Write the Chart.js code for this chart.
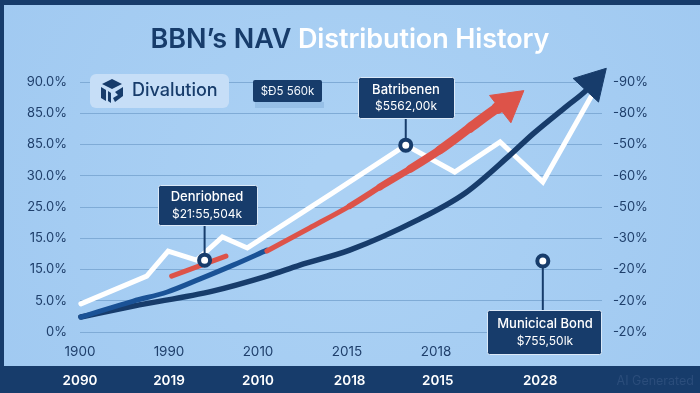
<!DOCTYPE html>
<html>
<head>
<meta charset="utf-8">
<style>
html,body{margin:0;padding:0;width:700px;height:393px;overflow:hidden;background:#a4ccf2}
#wrap{position:relative;width:700px;height:393px}
#title{position:absolute;left:0;top:20px;width:700px;text-align:center;font:600 27px Inter,sans-serif;line-height:38px;color:#fff;letter-spacing:-.1px;white-space:nowrap}
#title span{color:#173c6b}
</style>
<script src="https://cdn.jsdelivr.net/npm/chart.js@4"></script>
</head>
<body>
<div id="wrap">
<canvas id="c" width="700" height="393" style="position:absolute;left:0;top:0;width:700px;height:393px"></canvas>
<div id="title"><span>BBN’s NAV</span> Distribution History</div>
</div>
<script>
const leftLabels = ['0%','5.0%','15.0%','15.0%','25.0%','30.0%','85.0%','85.0%','90.0%'];
const rightLabels = ['-20%','-20%','-20%','-30%','-50%','-60%','-50%','-80%','-90%'];
const axisYears = ['1900','1990','2010','2015','2018'];
const axisPositions = [0,1,2,3,4];
const bandYears = ['2090','2019','2010','2018','2015','2028'];
const bandPositions = [0,1,2,3.03,4.02,5.17];

const whiteX = [0.01,0.75,0.99,1.31,1.60,1.88,2.84,3.66,4.21,4.72,5.20,5.74];
const whiteY = [0.90,1.79,2.59,2.30,3.04,2.69,4.45,5.98,5.12,6.08,4.80,7.52];
const navyX = [0.01,0.60,1.49,2.10,2.47,3.03,3.79,4.33,4.83,5.09,5.47,5.69,5.76];
const navyY = [0.48,0.83,1.31,1.79,2.14,2.62,3.58,4.45,5.66,6.34,7.23,7.74,7.97];
const blueX = [0.01,0.60,0.98,1.35,1.72,2.10];
const blueY = [0.48,0.99,1.28,1.70,2.14,2.62];
const redX = [1.03,1.64,1.80,2.10,2.58,3.03,3.37,3.71,4.04,4.38,4.69,4.81];
const redY = [1.79,2.43,null,2.59,3.33,4.03,4.64,5.22,5.82,6.53,7.17,7.33];
const markerX = [1.40,3.66,5.20];
const markerY = [2.30,5.98,2.27];
const calloutTitles = ['Denriobned','Batribenen','Municical Bond'];
const calloutValues = ['$21:55,504k','$5562,00k','$755,50lk'];
const badgeLabel = '$Ð5 560k';
const brandLabel = 'Divalution';
const watermark = 'AI Generated';

const NAVY='#173c6b', BLUE='#1a5296', RED='#dd5349', GRID='#7fabd6', INK='#1f3f6b';
const redWidths=[5,5,5,5,5,6,7,8,9,10,12,13];
const boxes=[
 {x:158,y:185,w:100,h:41,fs:13,ty:197,vy:214,cx:207},
 {x:358,y:77,w:97,h:42,fs:13,ty:90,vy:106,cx:406},
 {x:487,y:310,w:115,h:45,fs:13,ty:324,vy:341,cx:545}
];
const pts=(xs,ys)=>xs.map((x,i)=>({x,y:ys[i]}));
function rr(ctx,x,y,w,h,r){ctx.beginPath();ctx.roundRect(x,y,w,h,r);}

const decor={
 id:'decor',
 beforeDraw(chart){
  const c=chart.ctx;
  const g=c.createRadialGradient(350,190,40,350,190,420);
  g.addColorStop(0,'#abd1f4');g.addColorStop(1,'#a0c9f1');
  c.save();
  c.fillStyle=g;c.fillRect(0,0,700,393);
  c.fillStyle=NAVY;
  c.fillRect(0,0,700,5);
  c.fillRect(0,0,4,393);
  c.fillRect(0,366,700,27);
  c.restore();
 },
 beforeDatasetDraw(chart,args){
  if(args.index!==0)return;
  const c=chart.ctx,sx=chart.scales.x,sy=chart.scales.y;
  c.save();c.strokeStyle=NAVY;c.lineWidth=2;
  markerX.forEach((mx,i)=>{
   const b=boxes[i],px=sx.getPixelForValue(mx),py=sy.getPixelForValue(markerY[i]);
   const edge=b.y>py?b.y:b.y+b.h;
   c.beginPath();c.moveTo(px,py);c.lineTo(px,edge);c.stroke();
  });
  c.restore();
 },
 afterDraw(chart){
  const c=chart.ctx;
  c.save();
  c.fillStyle='#c6def7';rr(c,90,74,139,34,6);c.fill();
  c.fillStyle=NAVY;
  c.beginPath();c.moveTo(112,79);c.lineTo(122,84);c.lineTo(112,89);c.lineTo(102,84);c.closePath();c.fill();
  c.beginPath();c.moveTo(101,87);c.lineTo(106,90);c.lineTo(106,101);c.lineTo(101,98);c.closePath();c.fill();
  c.beginPath();c.moveTo(108,91);c.lineTo(111,93);c.lineTo(111,103);c.lineTo(108,101);c.closePath();c.fill();
  c.beginPath();c.moveTo(115,92);c.lineTo(123,87);c.lineTo(123,96);c.lineTo(115,102);c.lineTo(113,98);c.lineTo(118,95);c.closePath();c.fill();
  c.textBaseline='middle';c.textAlign='left';
  c.font='500 18px Inter, sans-serif';
  c.fillText(brandLabel,132,91);
  c.fillStyle='rgba(127,171,214,.45)';c.fillRect(255,102,69,6);
  c.fillStyle=NAVY;rr(c,253,80,69,22,2);c.fill();
  c.fillStyle='#f2f7fd';c.textAlign='center';c.font='11.5px Inter, sans-serif';
  c.fillText(badgeLabel,287.5,92);
  boxes.forEach((b,i)=>{
   c.fillStyle=NAVY;c.strokeStyle='#dbe9f8';c.lineWidth=1;
   rr(c,b.x+.5,b.y+.5,b.w-1,b.h-1,2);c.fill();c.stroke();
   c.fillStyle='#fff';c.textAlign='center';
   c.font='500 '+b.fs+'px Inter, sans-serif';
   c.fillText(calloutTitles[i],b.cx,b.ty);
   c.font='12px Inter, sans-serif';
   c.fillText(calloutValues[i],b.cx,b.vy);
  });
  c.fillStyle='#2b4d7b';c.textAlign='right';c.font='12.5px Inter, sans-serif';
  c.fillText(watermark,694,381);
  c.restore();
 }
};

const lineBase={xAxisID:'x',yAxisID:'y',fill:false,tension:0,borderCapStyle:'round',borderJoinStyle:'miter',pointRadius:0,pointHoverRadius:0,clip:false};
const arrow=(len,rot,color)=>({
 pointStyle:'triangle',
 pointRadius:ctx=>ctx.dataIndex===len-1?20:0,
 pointRotation:rot,
 pointBackgroundColor:color,pointBorderColor:color,pointBorderWidth:1
});

new Chart(document.getElementById('c'),{
 type:'scatter',
 data:{datasets:[
  {label:'Markers',data:pts(markerX,markerY),xAxisID:'x',yAxisID:'y',showLine:false,clip:false,pointStyle:'circle',pointRadius:5.5,pointBorderWidth:4,pointBorderColor:NAVY,pointBackgroundColor:'#fff'},
  {...lineBase,label:'Red',showLine:true,data:pts(redX,redY),borderColor:RED,borderWidth:5,spanGaps:false,tension:0.3,
   segment:{borderWidth:ctx=>redWidths[ctx.p0DataIndex]},...arrow(redX.length,52,RED)},
  {...lineBase,label:'Blue',showLine:true,data:pts(blueX,blueY),borderColor:BLUE,borderWidth:5,cubicInterpolationMode:'monotone'},
  {...lineBase,label:'Navy',showLine:true,data:pts(navyX,navyY),borderColor:NAVY,borderWidth:5.5,cubicInterpolationMode:'monotone',...arrow(navyX.length,43,NAVY)},
  {...lineBase,label:'White',showLine:true,data:pts(whiteX,whiteY),borderColor:'#fff',borderWidth:5}
 ]},
 options:{
  responsive:false,animation:false,
  layout:{padding:{top:82,left:0,right:0,bottom:0}},
  plugins:{legend:{display:false},tooltip:{enabled:false},title:{display:false}},
  scales:{
   y:{type:'linear',position:'left',min:0,max:8,
    grid:{color:GRID,lineWidth:1,drawTicks:false},border:{display:false},
    afterFit(s){s.width=80},
    ticks:{stepSize:1,padding:13,color:INK,font:{family:'Inter',size:13},callback:v=>leftLabels[v]}},
   y2:{type:'linear',position:'right',min:0,max:8,
    grid:{display:false,drawTicks:false},border:{display:false},
    afterFit(s){s.width=98},
    ticks:{stepSize:1,padding:11,color:INK,font:{family:'Inter',size:13},callback:v=>rightLabels[v]}},
   x:{type:'linear',position:'bottom',min:0,max:5.865,
    grid:{display:false,drawTicks:false},border:{display:false},
    afterFit(s){s.height=34},
    afterBuildTicks(s){s.ticks=axisPositions.map(value=>({value}))},
    ticks:{autoSkip:false,maxRotation:0,padding:12,color:INK,font:{family:'Inter',size:13.5},callback:(v,i)=>axisYears[i]}},
   x2:{type:'linear',position:'bottom',min:0,max:5.865,
    grid:{display:false,drawTicks:false},border:{display:false},
    afterFit(s){s.height=27},
    afterBuildTicks(s){s.ticks=bandPositions.map(value=>({value}))},
    ticks:{autoSkip:false,maxRotation:0,padding:7,color:'#fff',font:{family:'Inter',size:13.5,weight:'600'},callback:(v,i)=>bandYears[i]}}
  }
 },
 plugins:[decor]
});
</script>
</body>
</html>
